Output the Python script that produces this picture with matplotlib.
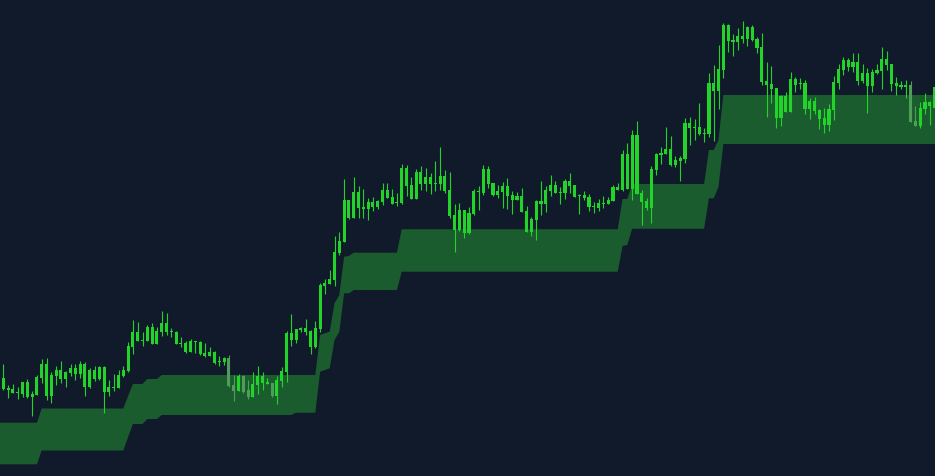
import numpy as np
import matplotlib
matplotlib.use("Agg")
import matplotlib.pyplot as plt

# ---------------------------------------------------------------------------
# Candle data (one entry per bar, left to right). All bars read as green,
# so the body is stored as open (bottom) / close (top).
# ---------------------------------------------------------------------------

highs = [
    112, 91, 92, 89.3, 94.3, 96.7, 85, 101, 117, 118, 104, 110, 115, 105, 112, 112, 115, 114, 108, 110,
    110, 110, 96, 102, 106, 110, 134, 156, 154, 144, 151, 153, 149, 165, 163, 148, 145, 139, 135, 137,
    135, 135, 133, 129, 125, 120, 119, 121, 101, 102, 101, 96, 104, 110, 104, 98, 93, 100, 109, 145,
    162, 147, 149, 157, 146, 155, 192.7, 196.7, 206, 240, 244, 297, 276, 299, 290, 287, 278, 279, 276, 293,
    293, 287, 283, 312, 311, 299, 307, 310, 308, 303, 315, 329, 306, 304, 272, 273, 266, 269, 287, 290,
    311, 310, 293, 291, 294, 298, 285, 284, 288, 270, 259, 276, 295, 290, 301, 295, 289, 297, 303, 291,
    282, 285, 282, 274, 277, 280, 279, 291, 293, 326, 333, 346, 355, 286, 278, 310, 323, 329, 349, 340,
    320, 320, 358, 359, 357, 373, 348, 403, 411, 431, 453, 452, 442, 448, 455, 450, 451, 439, 443, 414,
    410, 388, 381, 384, 404, 399, 398, 396, 378, 379, 367, 368, 372, 400, 412, 419, 418, 423, 423, 412,
    408, 407, 412, 429, 425, 412, 399, 395, 396, 395, 370, 374, 383, 375, 391,
]
closes = [
    97.7, 88, 86.7, 84.3, 94, 94, 82, 99.3, 112, 112, 101, 106, 106, 104, 108, 108, 112, 112, 106, 106,
    109, 109, 89, 89, 101, 106, 130, 144, 144, 136, 149, 149, 145, 153, 153, 145, 144, 133, 133, 135,
    135, 134, 123, 124, 124, 115, 118, 118, 91, 100, 100, 86, 92, 100, 100, 94, 93, 96, 105, 143,
    143, 147, 148, 148, 145, 148, 191, 193.3, 196.7, 224, 235, 276, 276, 284, 284, 269, 274, 274, 275, 286,
    286, 279, 274, 308, 308, 291, 304, 304, 299, 299, 293, 300, 300, 286, 261, 266, 266, 263, 285, 285,
    307, 307, 293, 285, 290, 290, 281, 280, 280, 265, 257, 275, 275, 286, 291, 291, 284, 295, 295, 291,
    281, 281, 279, 270, 273, 273, 276, 289, 289, 322, 322, 341, 341, 283, 275, 307, 322, 323, 327, 327,
    316, 318, 353, 353, 349, 349, 343, 393, 393, 407, 451, 451, 436, 440, 440, 449, 449, 437, 429, 395,
    392, 388, 380, 380, 397, 397, 393, 393, 375, 375, 366, 358, 367, 394, 407, 416, 416, 414, 414, 403,
    403, 404, 406, 417, 417, 412, 393, 391, 391, 391, 355, 368, 374, 374, 389,
]
opens = [
    87, 86, 83.3, 83.3, 82, 79, 79.3, 81, 98.3, 80, 80, 100, 97, 97, 103, 102, 102, 89.3, 89, 97,
    97, 84, 84, 88, 88, 100, 105, 129, 135, 135, 135, 132, 132, 144, 144, 144, 132, 132, 124, 124,
    134, 122, 120, 120, 113, 114, 114, 90, 85, 85, 84, 79, 79, 91, 93, 92, 80, 80, 95, 104,
    136, 136, 146, 144, 129, 129, 147, 190, 192, 196, 223, 234, 258, 258, 268, 267, 267, 269, 269, 274,
    278, 272, 273, 273, 290, 277, 277, 292, 292, 292, 292, 292, 285, 260, 246, 246, 243, 243, 262, 284,
    283, 292, 281, 281, 284, 280, 276, 276, 264, 244, 244, 256, 272, 272, 285, 283, 283, 283, 290, 279,
    280, 278, 269, 269, 268, 272, 272, 275, 286, 286, 287, 287, 282, 274, 268, 268, 306, 321, 322, 311,
    311, 315, 317, 348, 348, 342, 342, 342, 385, 385, 406, 435, 434, 434, 437, 437, 436, 428, 394, 391,
    387, 358, 358, 364, 364, 391, 392, 367, 367, 365, 357, 351, 351, 366, 393, 406, 409, 409, 395, 395,
    390, 390, 403, 405, 411, 392, 390, 389, 389, 354, 350, 350, 367, 370, 368,
]
lows = [
    86, 78.3, 82.7, 77, 79.3, 78.3, 60, 81, 92.7, 76, 73.3, 91.3, 93.3, 89.3, 100.3, 96.3, 98.3, 80, 88, 95.3,
    96, 63.3, 80.3, 85, 88, 99.3, 104, 122, 135, 130, 135, 132, 132, 140, 141, 139, 132, 129, 123, 124,
    123, 121, 119, 120, 112, 110, 111, 89, 75, 85, 83, 77, 79, 82, 86, 92, 79, 72, 89, 94,
    130, 133, 144, 141, 122, 128, 144.3, 182, 192, 190, 221, 234, 257, 258, 258, 258, 256, 265, 267, 271,
    278, 272, 270, 272, 280, 277, 277, 286, 285, 282, 285, 286, 283, 258, 224, 245, 238, 242, 261, 266,
    281, 288, 280, 278, 268, 267, 262, 276, 264, 244, 240, 236, 261, 264, 280, 283, 272, 277, 283, 279,
    262, 276, 265, 263, 265, 268, 272, 275, 286, 285, 287, 276, 282, 251, 266, 253, 301, 312, 322, 310,
    309, 295, 313, 331, 336, 341, 334, 339, 335, 367, 398, 424, 420, 426, 433, 430, 435, 423, 391, 359,
    373, 348, 350, 364, 364, 384, 387, 362, 357, 362, 347, 343, 345, 356, 387, 401, 405, 404, 391, 393,
    363, 384, 402, 387, 406, 385, 381, 387, 378, 354, 350, 348, 362, 351, 367,
]

# bars drawn in the paler green
muted_bars = [47, 48, 50, 51, 56, 189, 190]

# band: flat levels and how many bars each level lasts
# (one extra bar off-screen on each side so the fill reaches the edges)
band_upper_levels = [53.3, 67.5, 80, 92, 97, 101, 101, 141, 142.7, 144.3, 172.7,
                     181, 219.3, 220, 223.3, 246.7, 277, 277, 292, 326, 336, 381]
band_lower_levels = [11.7, 25.5, 39, 52, 57, 61, 63.3, 104.3, 106, 107.7, 136,
                     144.3, 182.7, 182.7, 186, 204.3, 230, 231, 247.3, 277.7, 289.3, 332]
band_lengths = [9, 18, 1, 3, 3, 28, 5, 1, 1, 1, 1,
                1, 1, 1, 10, 46, 1, 1, 16, 2, 1, 46]

BG = "#111a2b"
BAND = "#1b5c2e"
UP = "#22d42a"
MUTED = "#4e9e58"

n = len(highs)
xs = np.arange(n)
band_x = np.arange(-1, n + 1)
band_upper = np.repeat(band_upper_levels, band_lengths)
band_lower = np.repeat(band_lower_levels, band_lengths)

opens = np.array(opens, dtype=float)
closes = np.array(closes, dtype=float)
body = np.maximum(closes - opens, 0.8)
colors = [MUTED if i in muted_bars else UP for i in range(n)]

fig = plt.figure(figsize=(9.35, 4.76), dpi=100)
fig.patch.set_facecolor(BG)
ax = fig.add_axes([0, 0, 1, 1])
ax.set_facecolor(BG)

ax.fill_between(band_x, band_lower, band_upper, color=BAND, linewidth=0, zorder=1)
ax.vlines(xs, lows, highs, colors=colors, linewidth=0.8, zorder=2)
ax.bar(xs, body, bottom=opens, width=0.66, color=colors, linewidth=0, zorder=3)

ax.set_xlim(-0.69, 194.1)
ax.set_ylim(0, 476)
ax.axis("off")

fig.savefig("out.png", dpi=100, facecolor=BG)
